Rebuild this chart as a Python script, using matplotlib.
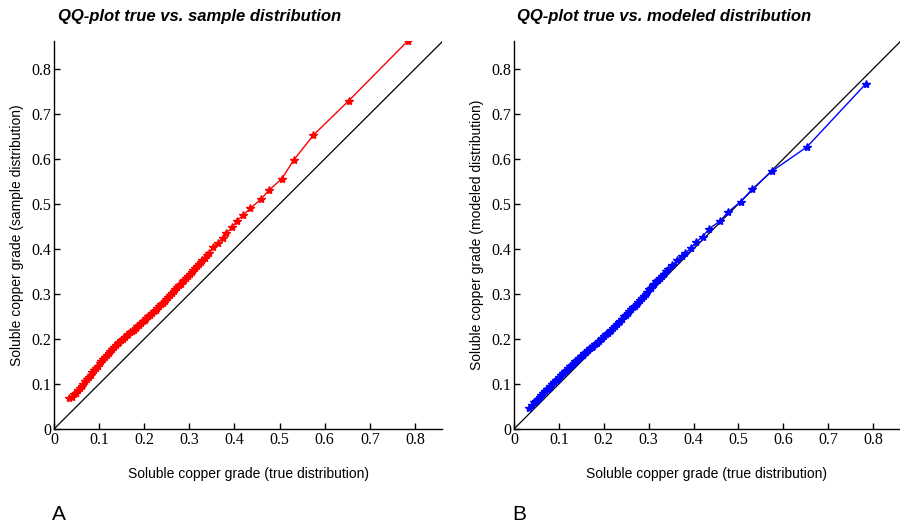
import matplotlib
matplotlib.use("Agg")
import matplotlib.pyplot as plt

# cuantiles de la distribucion verdadera (eje x comun a los dos paneles)
true_q = [0.034, 0.040, 0.045, 0.049, 0.053, 0.057, 0.061, 0.065, 0.069, 0.073,
          0.077, 0.081, 0.085, 0.089, 0.093, 0.097, 0.101, 0.105, 0.109, 0.113,
          0.117, 0.121, 0.125, 0.129, 0.133, 0.137, 0.141, 0.145, 0.149, 0.153,
          0.157, 0.161, 0.165, 0.169, 0.173, 0.177, 0.181, 0.185, 0.189, 0.193,
          0.197, 0.201, 0.205, 0.209, 0.213, 0.217, 0.221, 0.225, 0.229, 0.233,
          0.237, 0.241, 0.245, 0.249, 0.253, 0.257, 0.261, 0.265, 0.269, 0.273,
          0.277, 0.281, 0.285, 0.289, 0.293, 0.297, 0.301, 0.305, 0.309, 0.313,
          0.317, 0.321, 0.325, 0.329, 0.334, 0.339, 0.344, 0.353, 0.363, 0.374,
          0.381, 0.395, 0.406, 0.420, 0.435, 0.459, 0.477, 0.505, 0.531, 0.575,
          0.653, 0.784]

# panel A: distribucion de la muestra
sample_q = [0.068, 0.072, 0.077, 0.081, 0.086, 0.091, 0.096, 0.101, 0.106, 0.111,
            0.116, 0.121, 0.126, 0.131, 0.136, 0.141, 0.146, 0.150, 0.155, 0.160,
            0.164, 0.169, 0.173, 0.178, 0.182, 0.186, 0.190, 0.193, 0.197, 0.201,
            0.205, 0.208, 0.211, 0.215, 0.218, 0.221, 0.224, 0.228, 0.232, 0.236,
            0.240, 0.243, 0.247, 0.251, 0.254, 0.258, 0.262, 0.265, 0.269, 0.273,
            0.277, 0.281, 0.285, 0.289, 0.293, 0.297, 0.302, 0.306, 0.310, 0.315,
            0.319, 0.323, 0.328, 0.332, 0.336, 0.341, 0.345, 0.349, 0.353, 0.358,
            0.362, 0.366, 0.371, 0.375, 0.381, 0.386, 0.392, 0.404, 0.414, 0.424,
            0.435, 0.448, 0.463, 0.476, 0.490, 0.511, 0.531, 0.556, 0.597, 0.653,
            0.729, 0.862]

# panel B: distribucion modelada
model_q = [0.046, 0.054, 0.059, 0.063, 0.067, 0.072, 0.076, 0.080, 0.084, 0.088,
           0.092, 0.096, 0.100, 0.104, 0.108, 0.112, 0.116, 0.120, 0.124, 0.128,
           0.132, 0.136, 0.139, 0.143, 0.147, 0.151, 0.154, 0.158, 0.162, 0.165,
           0.169, 0.172, 0.176, 0.179, 0.182, 0.185, 0.188, 0.191, 0.195, 0.199,
           0.202, 0.206, 0.210, 0.213, 0.217, 0.221, 0.225, 0.229, 0.233, 0.237,
           0.241, 0.245, 0.250, 0.254, 0.258, 0.262, 0.266, 0.270, 0.274, 0.278,
           0.282, 0.286, 0.291, 0.295, 0.300, 0.305, 0.310, 0.314, 0.319, 0.323,
           0.328, 0.332, 0.336, 0.340, 0.345, 0.350, 0.355, 0.364, 0.375, 0.385,
           0.391, 0.402, 0.416, 0.427, 0.445, 0.462, 0.482, 0.505, 0.533, 0.573,
           0.627, 0.767]

ticks = [0, 0.1, 0.2, 0.3, 0.4, 0.5, 0.6, 0.7, 0.8]
tick_labels = ["0", "0.1", "0.2", "0.3", "0.4", "0.5", "0.6", "0.7", "0.8"]

titles = ["QQ-plot true vs. sample distribution", "QQ-plot true vs. modeled distribution"]
ylabels = ["Soluble copper grade (sample distribution)", "Soluble copper grade (modeled distribution)"]
xlabel = "Soluble copper grade (true distribution)"
letters = ["A", "B"]
colores = ["red", "blue"]
series = [sample_q, model_q]

W, H = 900, 527
fig = plt.figure(figsize=(9, 5.27), dpi=100)

# posiciones en pixeles: (izquierda, ancho)
cajas = [(54, 388), (514, 386)]
titulo_x = [58, 517]
letra_x = [52, 512]

for i in range(2):
    izq, ancho = cajas[i]
    ax = fig.add_axes([izq / W, (H - 429) / H, ancho / W, 388 / H])
    lim = 0.86
    ax.plot([0, lim], [0, lim], color="black", lw=0.9)
    ax.plot(true_q, series[i], color=colores[i], lw=1, marker="*", markersize=6)
    ax.set_xlim(0, lim)
    ax.set_ylim(0, 0.862)
    ax.spines["top"].set_visible(False)
    ax.spines["right"].set_visible(False)
    ax.spines["left"].set_linewidth(1)
    ax.spines["bottom"].set_linewidth(1)
    ax.set_xticks(ticks)
    ax.set_yticks(ticks)
    ax.set_xticklabels(tick_labels, family="Liberation Serif", fontsize=11.5)
    ax.set_yticklabels(tick_labels, family="Liberation Serif", fontsize=11.5)
    ax.tick_params(direction="in", length=4, width=1, pad=2)
    ax.set_xlabel(xlabel, family="Liberation Sans", fontsize=10, labelpad=14)
    ax.set_ylabel(ylabels[i], family="Liberation Sans", fontsize=10, labelpad=5)
    fig.text(titulo_x[i] / W, 1 - 16 / H, titles[i], family="Liberation Sans",
             fontsize=12, fontweight="bold", style="italic", ha="left", va="center")
    fig.text(letra_x[i] / W, 1 - 515 / H, letters[i], family="Liberation Sans",
             fontsize=15, ha="left", va="center")

fig.savefig("out.png", dpi=100)
